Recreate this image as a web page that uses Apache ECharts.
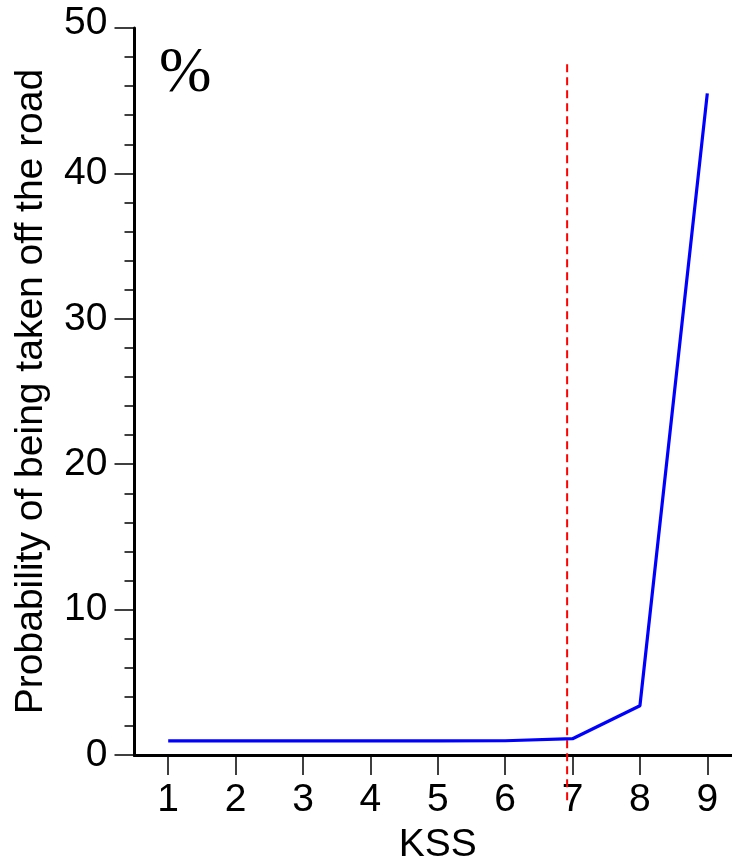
<!DOCTYPE html>
<html>
<head>
<meta charset="utf-8">
<script src="https://cdn.jsdelivr.net/npm/echarts@6/dist/echarts.min.js"></script>
<style>html,body{margin:0;padding:0;background:#fff;}#c{width:732px;height:863px;}</style>
</head>
<body>
<div id="c"></div>
<script>
var kss = [1, 2, 3, 4, 5, 6, 7, 8, 9];
var probability = [0.97, 0.97, 0.97, 0.97, 0.97, 0.98, 1.12, 3.39, 45.5];
var yTicks = [0, 10, 20, 30, 40, 50];
var thresholdX = [6.92, 6.92];
var thresholdY = [47.5, -3.44];

var FONT = '"Liberation Sans", Arial, Helvetica, sans-serif';
var chart = echarts.init(document.getElementById('c'), null, {renderer: 'canvas'});
var points = kss.map(function (k, i) { return [k, probability[i]]; });
var thresholdPts = thresholdX.map(function (x, i) { return [x, thresholdY[i]]; });

// main grid: y 0..50 over 28..755 px; overlay grid extends below to y=-5 with the same scale
var yPx = (755 - 28) / 50;
var overlayMin = -5;
var overlayBottom = 863 - (755 - overlayMin * yPx);

chart.setOption({
  animation: false,
  backgroundColor: '#fff',
  title: {
    text: '%',
    left: 159,
    top: 43,
    padding: 0,
    textStyle: {fontFamily: '"Liberation Serif", "Times New Roman", serif', fontSize: 63, fontWeight: 'normal', color: '#000'}
  },
  grid: [
    {left: 134.5, right: -9, top: 28, bottom: 108, containLabel: false, outerBoundsMode: 'none'},
    {left: 134.5, right: -9, top: 28, bottom: overlayBottom, containLabel: false, outerBoundsMode: 'none'}
  ],
  xAxis: [{
    type: 'value',
    gridIndex: 0,
    min: 0.5,
    max: 9.5,
    name: 'KSS',
    nameLocation: 'middle',
    nameGap: 71,
    nameTextStyle: {fontFamily: FONT, fontSize: 39, color: '#000'},
    axisLine: {show: true, onZero: false, lineStyle: {color: '#000', width: 3}},
    axisTick: {show: true, length: 20, customValues: kss, lineStyle: {color: '#000', width: 1.5}},
    axisLabel: {customValues: kss, margin: 26, fontFamily: FONT, fontSize: 39, color: '#000'},
    splitLine: {show: false}
  }, {
    type: 'value',
    gridIndex: 0,
    position: 'top',
    min: 0.5,
    max: 9.5,
    axisLine: {show: true, lineStyle: {color: '#000', width: 3}},
    axisTick: {show: false},
    axisLabel: {show: false},
    splitLine: {show: false}
  }, {
    type: 'value',
    gridIndex: 1,
    min: 0.5,
    max: 9.5,
    show: false
  }],
  yAxis: [{
    type: 'value',
    gridIndex: 0,
    min: 0,
    max: 50,
    interval: 10,
    name: 'Probability of being taken off the road',
    nameLocation: 'middle',
    nameGap: 84,
    nameTextStyle: {fontFamily: FONT, fontSize: 39, color: '#000'},
    axisLine: {show: true, lineStyle: {color: '#000', width: 3}},
    axisTick: {show: true, length: 20, lineStyle: {color: '#000', width: 1.5}},
    minorTick: {show: true, splitNumber: 5, length: 10, lineStyle: {color: '#000', width: 1.5}},
    axisLabel: {
      margin: 27,
      fontFamily: FONT,
      fontSize: 39,
      color: '#000',
      formatter: function (v) { return v === yTicks[yTicks.length - 1] ? '{t|' + v + '}' : String(v); },
      rich: {t: {fontFamily: FONT, fontSize: 39, color: '#000', padding: [0, 0, 10, 0]}}
    },
    splitLine: {show: false},
    minorSplitLine: {show: false}
  }, {
    type: 'value',
    gridIndex: 1,
    min: overlayMin,
    max: 50,
    show: false
  }],
  series: [{
    type: 'line',
    xAxisIndex: 2,
    yAxisIndex: 1,
    data: thresholdPts,
    showSymbol: false,
    symbol: 'none',
    clip: false,
    silent: true,
    z: 1,
    lineStyle: {color: '#ff0000', width: 2, type: [8, 5]}
  }, {
    type: 'line',
    xAxisIndex: 0,
    yAxisIndex: 0,
    data: points,
    showSymbol: false,
    symbol: 'none',
    clip: false,
    z: 3,
    lineStyle: {color: '#0000ff', width: 3.2}
  }]
});
</script>
</body>
</html>
